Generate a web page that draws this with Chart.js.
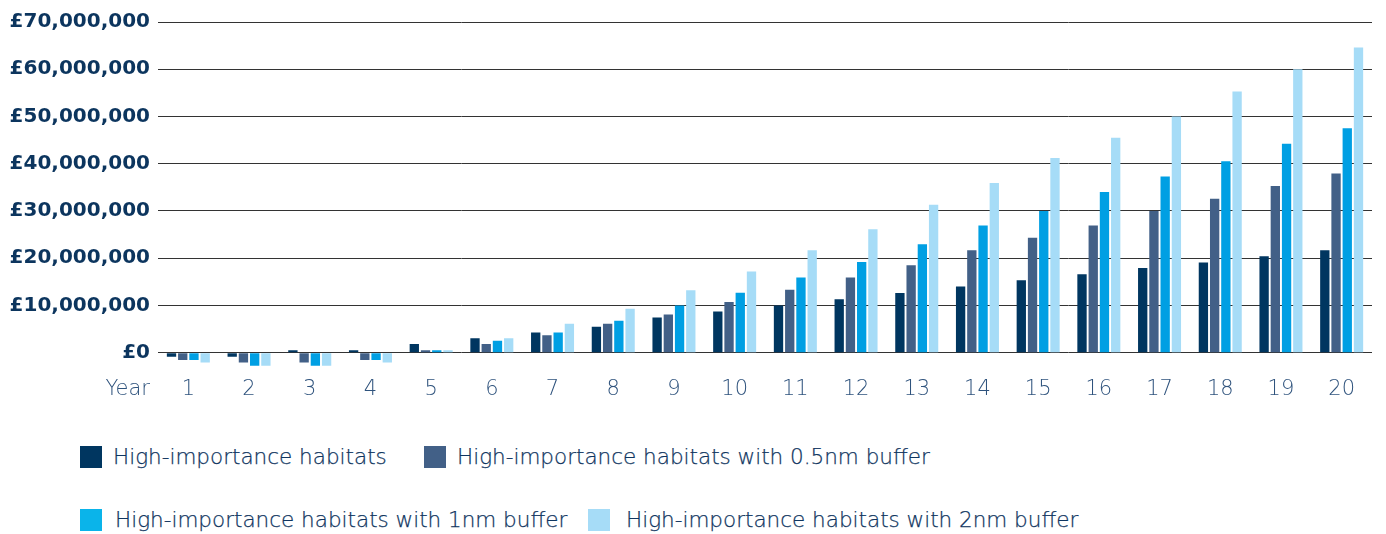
<!DOCTYPE html>
<html>
<head>
<meta charset="utf-8">
<script src="https://cdn.jsdelivr.net/npm/chart.js@4"></script>
<style>
  html, body { margin: 0; padding: 0; background: #ffffff; }
  #wrap { position: relative; width: 1386px; height: 534px; overflow: hidden; }
  #c { position: absolute; left: 0; top: 0; }
  .lg { position: absolute; display: flex; align-items: center; font-family: "DejaVu Sans", sans-serif; font-weight: 200; font-size: 21.5px; color: #0f3560; white-space: nowrap; -webkit-text-stroke: 0.25px #0f3560; }
  .lg i { display: inline-block; width: 22px; height: 22px; margin-right: 11px; }
</style>
</head>
<body>
<div id="wrap">
  <canvas id="c" width="1386" height="420"></canvas>
  <div id="legend"></div>
</div>
<script>
const years = ["1","2","3","4","5","6","7","8","9","10","11","12","13","14","15","16","17","18","19","20"];
const seriesNames = [
  "High-importance habitats",
  "High-importance habitats with 0.5nm buffer",
  "High-importance habitats with 1nm buffer",
  "High-importance habitats with 2nm buffer"
];
// values in £ millions
const highImportance = [-0.85, -0.85, 0.5, 0.5, 1.85, 3.05, 4.28, 5.5, 7.45, 8.7, 10.0, 11.3, 12.6, 14.0, 15.3, 16.6, 17.9, 19.1, 20.4, 21.7];
const buffer05nm = [-1.55, -2.1, -2.1, -1.55, 0.5, 1.85, 3.66, 6.14, 8.07, 10.7, 13.3, 15.9, 18.5, 21.7, 24.3, 26.9, 30.0, 32.6, 35.3, 37.9];
const buffer1nm = [-1.55, -2.8, -2.8, -1.55, 0.5, 2.5, 4.28, 6.76, 10.0, 12.7, 15.9, 19.2, 22.96, 26.9, 30.0, 34.0, 37.3, 40.5, 44.2, 47.5];
const buffer2nm = [-2.1, -2.8, -2.8, -2.1, 0.5, 3.05, 6.14, 9.3, 13.2, 17.2, 21.7, 26.1, 31.3, 35.9, 41.2, 45.5, 50.0, 55.3, 60.0, 64.6];
const yTickValues = [0, 10000000, 20000000, 30000000, 40000000, 50000000, 60000000, 70000000];
const xAxisLead = "Year";

const colors = ["#003660", "#426087", "#009fe3", "#a6dcf7"];
const legendColors = ["#003660", "#426087", "#0ab4ea", "#a6dcf7"];
const allSeries = [highImportance, buffer05nm, buffer1nm, buffer2nm];
const xLabelColor = '#2f537d';

const yearLabelPlugin = {
  id: 'yearLabel',
  afterDraw(chart) {
    const xs = chart.scales.x;
    const items = xs.getLabelItems ? xs.getLabelItems() : null;
    let y = xs.top + xs.options.ticks.padding + 12.6;
    if (items && items.length) y = items[0].options.translation[1] + (items[0].textOffset || 0);
    const ctx = chart.ctx;
    ctx.save();
    ctx.font = '200 21px "DejaVu Sans"';
    ctx.fillStyle = xLabelColor;
    ctx.textAlign = 'right';
    ctx.textBaseline = 'middle';
    ctx.fillText(xAxisLead, chart.chartArea.left - 8, y);
    ctx.restore();
  }
};

new Chart(document.getElementById('c'), {
  type: 'bar',
  data: {
    labels: years,
    datasets: allSeries.map((vals, i) => ({
      label: seriesNames[i],
      data: vals.map(v => v * 1000000),
      backgroundColor: colors[i],
      borderWidth: 0,
      categoryPercentage: 0.74,
      barPercentage: 0.83
    }))
  },
  options: {
    responsive: false,
    animation: false,
    maintainAspectRatio: false,
    layout: { padding: { top: 22, right: 14, bottom: 8, left: 0 } },
    plugins: { legend: { display: false }, tooltip: { enabled: false } },
    scales: {
      x: {
        grid: { display: false, drawTicks: false },
        border: { display: false },
        ticks: {
          padding: 10,
          color: xLabelColor,
          font: { family: 'DejaVu Sans', size: 21, weight: '200' }
        }
      },
      y: {
        min: -3000000,
        max: 70000000,
        afterBuildTicks: (scale) => { scale.ticks = yTickValues.map(v => ({ value: v })); },
        afterFit: (scale) => { scale.width = 158; },
        grid: { color: '#333333', lineWidth: 1, drawTicks: false },
        border: { display: false },
        ticks: {
          padding: 8,
          color: '#0c355e',
          font: { family: 'DejaVu Sans', size: 20, weight: 'bold' },
          callback: (v) => '£' + Number(v).toLocaleString('en-GB')
        }
      }
    }
  },
  plugins: [yearLabelPlugin]
});

// HTML legend
const legendPos = [
  { left: 80, top: 444, gap: 11 },
  { left: 424, top: 444, gap: 11 },
  { left: 80, top: 507, gap: 13 },
  { left: 588, top: 507, gap: 16 }
];
const lg = document.getElementById('legend');
seriesNames.forEach((name, i) => {
  const d = document.createElement('div');
  d.className = 'lg';
  d.style.left = legendPos[i].left + 'px';
  d.style.top = legendPos[i].top + 'px';
  const box = document.createElement('i');
  box.style.background = legendColors[i];
  box.style.marginRight = legendPos[i].gap + 'px';
  d.appendChild(box);
  d.appendChild(document.createTextNode(name));
  lg.appendChild(d);
});
</script>
</body>
</html>
